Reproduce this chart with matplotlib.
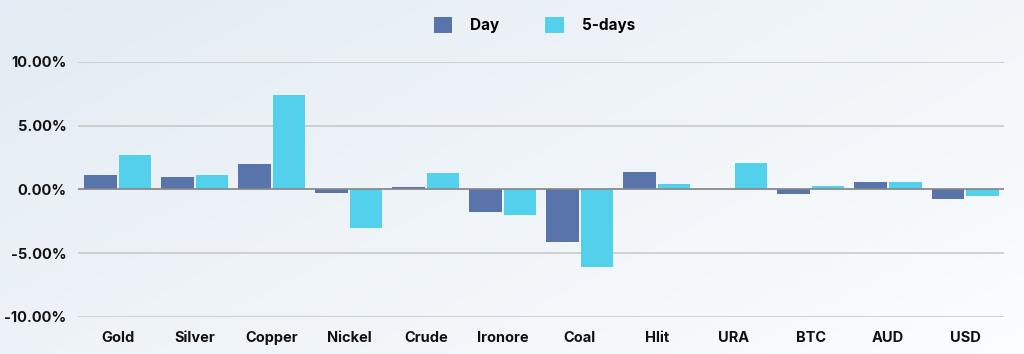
import matplotlib
matplotlib.use("Agg")
import matplotlib.pyplot as plt
import numpy as np
from matplotlib.ticker import FuncFormatter

categories = ["Gold", "Silver", "Copper", "Nickel", "Crude", "Ironore", "Coal", "Hlit", "URA", "BTC", "AUD", "USD"]
day = [1.1, 1.0, 2.0, -0.3, 0.15, -1.8, -4.1, 1.35, 0.0, -0.35, 0.6, -0.75]
five_days = [2.7, 1.1, 7.4, -3.0, 1.25, -2.0, -6.1, 0.45, 2.1, 0.25, 0.55, -0.5]
yticks = [-10, -5, 0, 5, 10]

c_day = "#5874aa"
c_5d = "#53d0eb"

plt.rcParams['font.family'] = ['Inter', 'DejaVu Sans']

fig = plt.figure(figsize=(10.24, 3.54), dpi=100)
# background gradient
bg = fig.add_axes([0, 0, 1, 1], zorder=-10)
gx = np.linspace(0, 1, 256)
gy = np.linspace(0, 1, 64)
X, Y = np.meshgrid(gx, gy)
t = np.clip(0.6 * X + 0.4 * (1 - Y), 0, 1)
c1 = np.array([0.89, 0.925, 0.955])
c2 = np.array([0.985, 0.99, 0.995])
img = c1[None, None, :] * (1 - t[..., None]) + c2[None, None, :] * t[..., None]
bg.imshow(img, aspect='auto', extent=[0, 1, 0, 1], origin='lower')
bg.axis('off')

ax = fig.add_axes([0.076, 0.105, 0.904, 0.72])
ax.patch.set_alpha(0)
x = np.arange(len(categories))
w = 0.42
off = 0.225
ax.bar(x - off, day, width=w, color=c_day, zorder=3, label="Day")
ax.bar(x + off, five_days, width=w, color=c_5d, zorder=3, label="5-days")
ax.set_xlim(-0.52, len(categories) - 0.5)
ax.set_ylim(-10, 10)
ax.set_yticks(yticks)
ax.yaxis.set_major_formatter(FuncFormatter(lambda v, p: f"{v:.2f}%"))
ax.set_xticks(x)
ax.set_xticklabels(categories)
for s in ax.spines.values():
    s.set_visible(False)
ax.tick_params(length=0, labelsize=10.5)
ax.tick_params(axis='x', pad=10)
ax.tick_params(axis='y', pad=8)
for lab in ax.get_xticklabels() + ax.get_yticklabels():
    lab.set_fontweight('bold')
    lab.set_color('#111111')
ax.grid(axis='y', color='#c8cacc', linewidth=1.2, zorder=0)
ax.axhline(0, color='#888888', linewidth=1.2, zorder=4)

leg = fig.legend(loc='upper center', bbox_to_anchor=(0.522, 0.99), ncol=2, frameon=False,
                 prop={'weight': 'bold', 'size': 11}, handlelength=1.2, handleheight=1.2,
                 columnspacing=3.0, handletextpad=1.2)
fig.savefig("out.png", dpi=100)
